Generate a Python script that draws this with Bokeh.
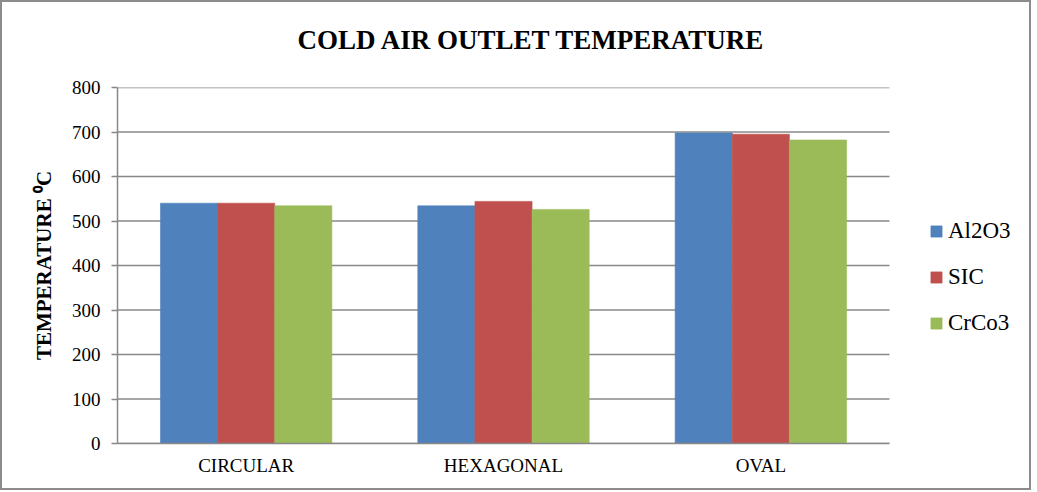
import numpy as np
from bokeh.plotting import figure
from bokeh.models import (Range1d, Legend, LegendItem, Title, ColumnDataSource, FixedTicker)
from bokeh.embed import file_html
from bokeh.resources import INLINE

categories = ["CIRCULAR", "HEXAGONAL", "OVAL"]
series_names = ["Al2O3", "SIC", "CrCo3"]
al2o3 = [540, 534, 698]
sic = [540, 544, 695]
crco3 = [534, 526, 682]
y_ticks = [0, 100, 200, 300, 400, 500, 600, 700, 800]
colors = ["#4F81BD", "#C0504D", "#9BBB59"]

FONT = "Liberation Serif"
GRID = "#888888"

n_cat = len(categories)
cat_pos = np.arange(n_cat) + 0.5          # category centres on the x scale
x_end = n_cat + 0.544                      # extra room on the right for the legend

p = figure(
    frame_width=912, frame_height=356,
    x_range=Range1d(0, x_end), y_range=Range1d(0, y_ticks[-1]),
    output_backend="svg", toolbar_location=None,
    min_border_left=115, min_border_right=0, min_border_top=0, min_border_bottom=45,
    styles={"border": "2px solid #8c8c8c"},
)
p.title.visible = False

# horizontal gridlines only across the category area
p.segment(x0=[0] * len(y_ticks), x1=[n_cat] * len(y_ticks), y0=y_ticks, y1=y_ticks,
          line_color=GRID, line_width=1.5)

bw = 0.222
renderers = []
for j, (name, vals, col) in enumerate(zip(series_names, [al2o3, sic, crco3], colors)):
    src = ColumnDataSource(data=dict(x=cat_pos + (j - 1) * bw, top=vals))
    r = p.vbar(x="x", top="top", width=bw, source=src,
               fill_color=col, line_color=col, line_alpha=0.6)
    renderers.append(r)

# small spacer between frame and title, then the title above it
spacer = Title(text=" ", text_font_size="1px", standoff=10)
p.add_layout(spacer, "above")
t = Title(text="COLD AIR OUTLET TEMPERATURE", align="left", offset=180,
          text_font=FONT, text_font_size="27px", text_font_style="bold",
          text_color="black", standoff=40)
p.add_layout(t, "above")

# Y axis
p.yaxis.ticker = FixedTicker(ticks=y_ticks)
p.yaxis.axis_label = "TEMPERATURE \u2070C"
p.yaxis.axis_label_text_font = FONT
p.yaxis.axis_label_text_font_style = "bold"
p.yaxis.axis_label_text_font_size = "21px"
p.yaxis.axis_label_text_color = "black"
p.yaxis.axis_label_standoff = 13
p.yaxis.major_label_text_font = FONT
p.yaxis.major_label_text_font_size = "19px"
p.yaxis.major_label_text_color = "black"
p.yaxis.major_label_standoff = 11
p.yaxis.major_tick_in = 0
p.yaxis.major_tick_out = 6
p.yaxis.minor_tick_in = 0
p.yaxis.minor_tick_out = 0
p.yaxis.axis_line_color = GRID
p.yaxis.axis_line_width = 1.5
p.yaxis.major_tick_line_color = GRID
p.yaxis.major_tick_line_width = 1.5

# X axis (category labels at category centres)
p.xaxis.ticker = FixedTicker(ticks=list(cat_pos))
p.xaxis.major_label_overrides = {float(v): c for v, c in zip(cat_pos, categories)}
p.xaxis.bounds = (0, n_cat)
p.xaxis.major_label_text_font = FONT
p.xaxis.major_label_text_font_size = "19px"
p.xaxis.major_label_text_color = "black"
p.xaxis.major_label_standoff = 11
p.xaxis.major_tick_in = 0
p.xaxis.major_tick_out = 0
p.xaxis.minor_tick_in = 0
p.xaxis.minor_tick_out = 0
p.xaxis.axis_line_color = GRID
p.xaxis.axis_line_width = 1.5

p.xgrid.grid_line_color = None
p.ygrid.grid_line_color = None
p.outline_line_color = None

legend = Legend(
    items=[LegendItem(label=n, renderers=[r]) for n, r in zip(series_names, renderers)],
    location=(812, 107),
    label_text_font=FONT, label_text_font_size="23px", label_text_color="black",
    glyph_width=14, glyph_height=14, label_height=23, label_standoff=5,
    spacing=20, padding=10,
    border_line_color=None, background_fill_alpha=0, margin=0,
)
p.add_layout(legend, "center")

open("out.html", "w").write(file_html(p, INLINE))
